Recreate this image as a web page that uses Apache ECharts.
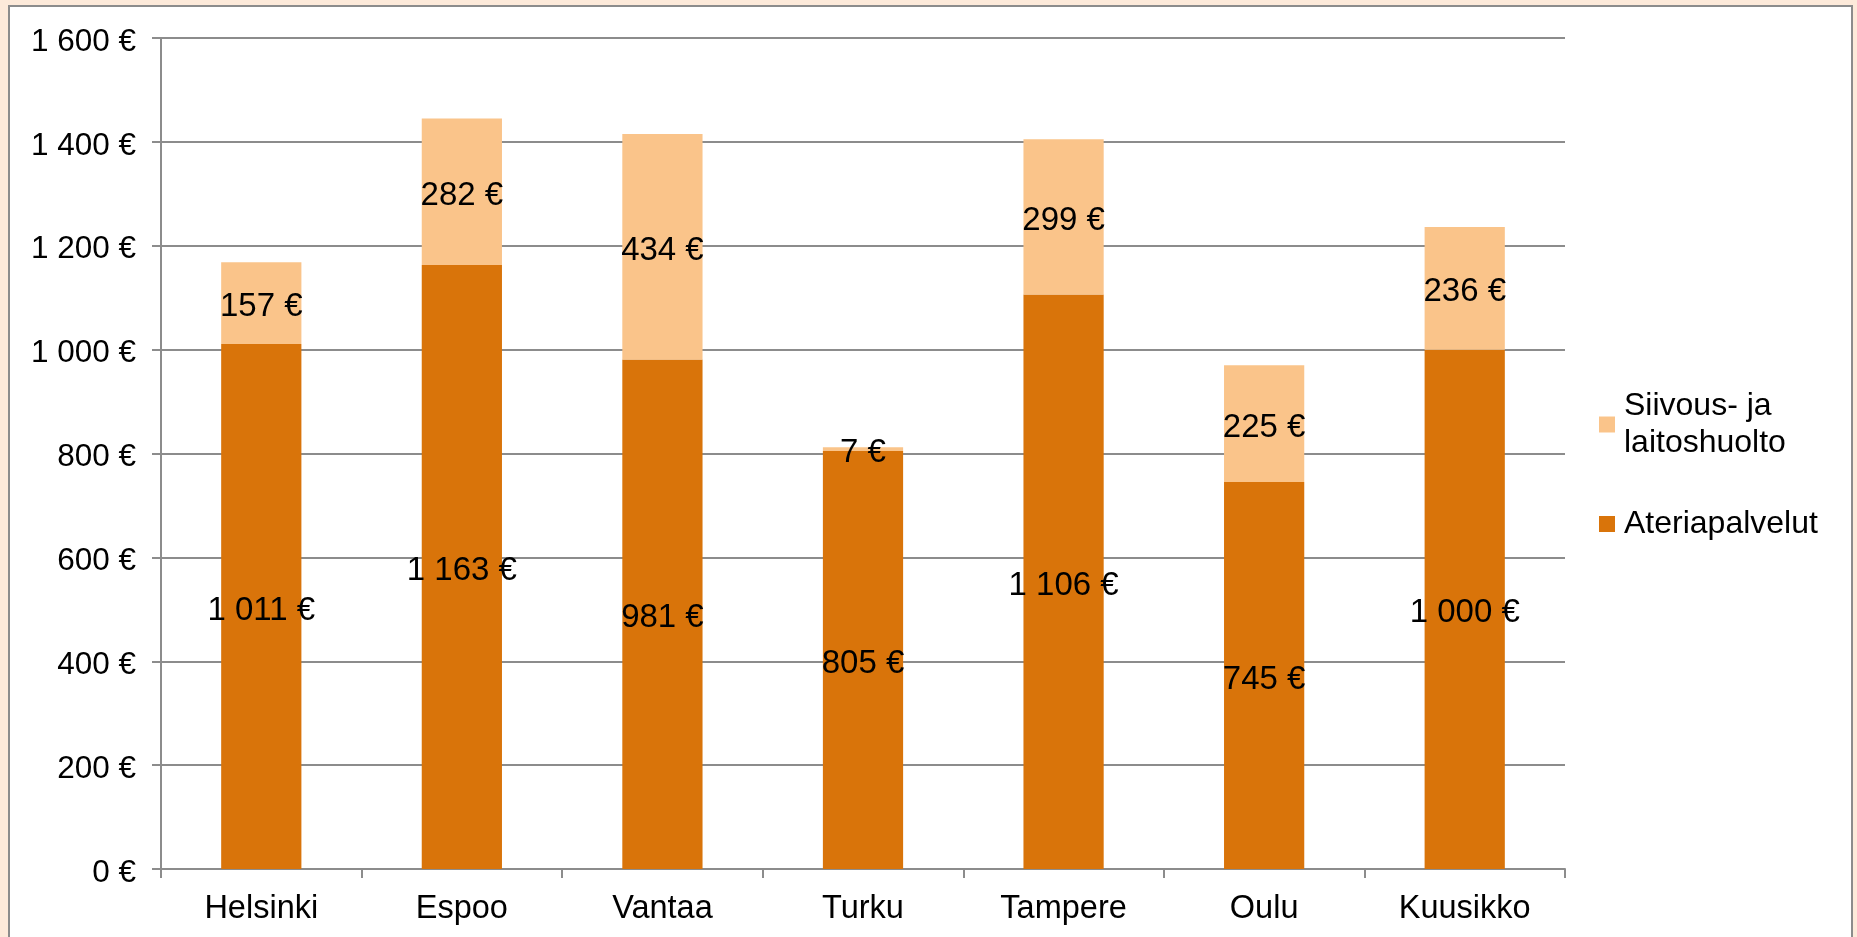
<!DOCTYPE html>
<html>
<head>
<meta charset="utf-8">
<script src="https://cdn.jsdelivr.net/npm/echarts@6/dist/echarts.min.js"></script>
<style>
html, body { margin: 0; padding: 0; width: 1857px; height: 937px; overflow: hidden; background: #fdeada; }
#panel { position: absolute; left: 8px; top: 5px; width: 1841px; height: 940px; background: #fff; border: 2px solid #8c8c8c; }
#main { position: absolute; left: 0; top: 0; width: 1857px; height: 937px; }
</style>
</head>
<body>
<div id="panel"></div>
<div id="main"></div>
<script>
// kaupungit
var cities = ['Helsinki', 'Espoo', 'Vantaa', 'Turku', 'Tampere', 'Oulu', 'Kuusikko'];
var ateria = [1011, 1163, 981, 805, 1106, 745, 1000];
var siivous = [157, 282, 434, 7, 299, 225, 236];
var seriesNames = ['Ateriapalvelut', 'Siivous- ja laitoshuolto'];

//euro-muoto välilyönnillä
function euro(v) {
	return String(v).replace(/\B(?=(\d{3})+(?!\d))/g, ' ') + ' €';
}

var font = '"Liberation Sans", Arial, sans-serif';
var myChart = echarts.init(document.getElementById('main'));
var barLabel = {
	show: true,
	position: 'inside',
	offset: [0, 4],
	fontSize: 33,
	color: '#000',
	fontFamily: font,
	formatter: function(p) { return euro(p.value); }
};
var option = {
	animation: false,
	textStyle: { fontFamily: font },
	grid: { left: 161, right: 292, top: 38, bottom: 68, containLabel: false },
	legend: [{
		data: [{ name: seriesNames[1] }],
		icon: 'rect',
		left: 1594,
		top: 364,
		itemWidth: 16,
		itemHeight: 16,
		formatter: function() { return 'Siivous- ja\nlaitoshuolto'; },
		textStyle: { fontSize: 32, color: '#000', fontFamily: font, lineHeight: 37, padding: [37, 0, 0, 4] }
	}, {
		data: [{ name: seriesNames[0] }],
		icon: 'rect',
		left: 1594,
		top: 503,
		itemWidth: 16,
		itemHeight: 16,
		textStyle: { fontSize: 32, color: '#000', fontFamily: font, padding: [0, 0, 0, 4] }
	}],
	xAxis: {
		type: 'category',
		data: cities,
		axisLine: { lineStyle: { color: '#8c8c8c', width: 2 } },
		axisTick: { show: true, length: 9, lineStyle: { color: '#8c8c8c', width: 2 } },
		axisLabel: { fontSize: 32.5, color: '#000', margin: 24, fontFamily: font }
	},
	yAxis: {
		type: 'value',
		min: 0,
		max: 1600,
		interval: 200,
		axisLine: { show: true, lineStyle: { color: '#8c8c8c', width: 2 } },
		axisTick: { show: true, length: 9, lineStyle: { color: '#8c8c8c', width: 2 } },
		splitLine: { lineStyle: { color: '#8c8c8c', width: 2 } },
		axisLabel: { fontSize: 31.5, color: '#000', margin: 25, fontFamily: font,
			verticalAlign: 'top', lineHeight: 8, formatter: euro }
	},
	series: [{
		name: seriesNames[0],
		type: 'bar',
		stack: 'kulut',
		barWidth: '40%',
		data: ateria,
		itemStyle: { color: '#d9740a' },
		label: barLabel
	}, {
		name: seriesNames[1],
		type: 'bar',
		stack: 'kulut',
		barWidth: '40%',
		data: siivous,
		itemStyle: { color: '#fac48a' },
		label: barLabel
	}]
};
myChart.setOption(option);
</script>
</body>
</html>
